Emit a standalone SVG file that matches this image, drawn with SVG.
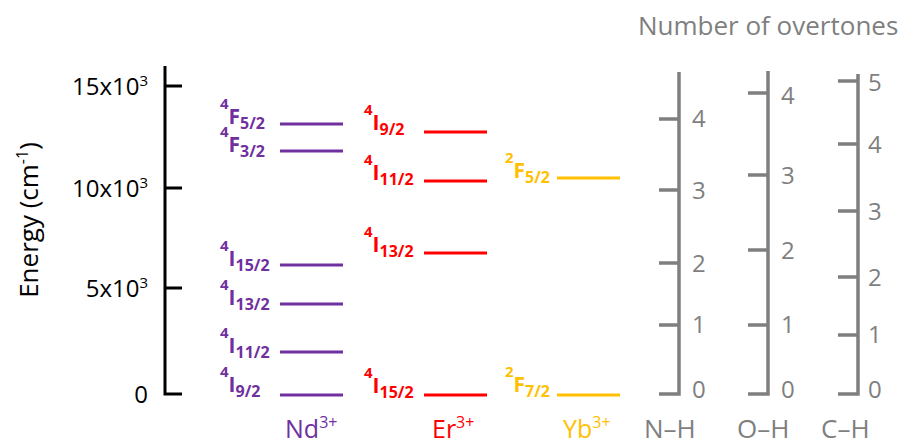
<svg xmlns="http://www.w3.org/2000/svg" width="905" height="445" viewBox="0 0 905 445">
<style>
text{font-family:"Open Sans","Noto Sans","Liberation Sans",sans-serif}
.ax{fill:none;stroke:#000;stroke-width:3}
.ov{fill:none;stroke:#7f7f7f;stroke-width:3.5}
.tk{font-size:24px;fill:#000}
.gt{font-size:24px;fill:#7f7f7f}
.gb{font-size:26px;fill:#7f7f7f}
.lv{font-weight:bold;font-size:21px}
.sup{font-size:15px}
.sub{font-size:16px}
.nd{fill:#7030a0}.ndl{stroke:#7030a0;stroke-width:3}
.er{fill:#ff0000}.erl{stroke:#ff0000;stroke-width:3}
.yb{fill:#ffc000}.ybl{stroke:#ffc000;stroke-width:3}
.ion{font-size:25px}
</style>
<rect width="905" height="445" fill="#fff"/>
<g id="energy-axis">
<path class="ax" d="M165,66 V394 H182 M165,86 H182 M165,188 H182 M165,288 H182"/>
<text class="tk" x="148" y="95" text-anchor="end">15x10<tspan font-size="15" dy="-9">3</tspan></text>
<text class="tk" x="148" y="197" text-anchor="end">10x10<tspan font-size="15" dy="-9">3</tspan></text>
<text class="tk" x="148" y="297" text-anchor="end">5x10<tspan font-size="15" dy="-9">3</tspan></text>
<text class="tk" x="148" y="403" text-anchor="end">0</text>
<text class="tk" font-size="26" transform="translate(38,220) rotate(-90)" text-anchor="middle" style="font-size:26px">Energy (cm<tspan font-size="16" dy="-10">-1</tspan><tspan dy="10">)</tspan></text>
</g>
<g id="nd">
<line class="ndl" x1="280" y1="124" x2="343" y2="124"/>
<line class="ndl" x1="280" y1="151" x2="343" y2="151"/>
<line class="ndl" x1="280" y1="265" x2="343" y2="265"/>
<line class="ndl" x1="280" y1="304" x2="343" y2="304"/>
<line class="ndl" x1="280" y1="352" x2="343" y2="352"/>
<line class="ndl" x1="280" y1="395" x2="343" y2="395"/>
<text class="lv nd" x="220" y="124"><tspan class="sup" dy="-15">4</tspan><tspan dy="15">F</tspan><tspan class="sub" dy="5">5/2</tspan></text>
<text class="lv nd" x="220" y="152"><tspan class="sup" dy="-15">4</tspan><tspan dy="15">F</tspan><tspan class="sub" dy="5">3/2</tspan></text>
<text class="lv nd" x="220" y="266"><tspan class="sup" dy="-15">4</tspan><tspan dy="15">I</tspan><tspan class="sub" dy="5">15/2</tspan></text>
<text class="lv nd" x="220" y="305"><tspan class="sup" dy="-15">4</tspan><tspan dy="15">I</tspan><tspan class="sub" dy="5">13/2</tspan></text>
<text class="lv nd" x="220" y="353"><tspan class="sup" dy="-15">4</tspan><tspan dy="15">I</tspan><tspan class="sub" dy="5">11/2</tspan></text>
<text class="lv nd" x="220" y="392"><tspan class="sup" dy="-15">4</tspan><tspan dy="15">I</tspan><tspan class="sub" dy="5">9/2</tspan></text>
<text class="ion nd" x="285" y="438">Nd<tspan font-size="16" dy="-10">3+</tspan></text>
</g>
<g id="er">
<line class="erl" x1="424" y1="132" x2="487" y2="132"/>
<line class="erl" x1="424" y1="181" x2="487" y2="181"/>
<line class="erl" x1="424" y1="253" x2="487" y2="253"/>
<line class="erl" x1="424" y1="395" x2="487" y2="395"/>
<text class="lv er" x="364" y="130"><tspan class="sup" dy="-15">4</tspan><tspan dy="15">I</tspan><tspan class="sub" dy="5">9/2</tspan></text>
<text class="lv er" x="364" y="180"><tspan class="sup" dy="-15">4</tspan><tspan dy="15">I</tspan><tspan class="sub" dy="5">11/2</tspan></text>
<text class="lv er" x="364" y="252"><tspan class="sup" dy="-15">4</tspan><tspan dy="15">I</tspan><tspan class="sub" dy="5">13/2</tspan></text>
<text class="lv er" x="364" y="393"><tspan class="sup" dy="-15">4</tspan><tspan dy="15">I</tspan><tspan class="sub" dy="5">15/2</tspan></text>
<text class="ion er" x="432" y="438">Er<tspan font-size="16" dy="-10">3+</tspan></text>
</g>
<g id="yb">
<line class="ybl" x1="557" y1="178" x2="620" y2="178"/>
<line class="ybl" x1="557" y1="395" x2="620" y2="395"/>
<text class="lv yb" x="505" y="178"><tspan class="sup" dy="-15">2</tspan><tspan dy="15">F</tspan><tspan class="sub" dy="5">5/2</tspan></text>
<text class="lv yb" x="505" y="392"><tspan class="sup" dy="-15">2</tspan><tspan dy="15">F</tspan><tspan class="sub" dy="5">7/2</tspan></text>
<text class="ion yb" x="563" y="438">Yb<tspan font-size="16" dy="-10">3+</tspan></text>
</g>
<g id="overtones">
<text class="gb" x="638" y="35">Number of overtones</text>
</g>
<g id="nh">
<path class="ov" d="M679,72 V394 H659 M659,119 H679 M659,190 H679 M659,263 H679 M659,325 H679"/>
<text class="gt" x="692" y="127">4</text>
<text class="gt" x="692" y="199">3</text>
<text class="gt" x="692" y="272">2</text>
<text class="gt" x="692" y="333">1</text>
<text class="gt" x="692" y="398">0</text>
<text class="gb" x="644" y="438">N–H</text>
</g>
<g id="oh">
<path class="ov" d="M768,71 V394 H748 M748,93 H768 M748,175 H768 M748,250 H768 M748,325 H768"/>
<text class="gt" x="781" y="104">4</text>
<text class="gt" x="781" y="184">3</text>
<text class="gt" x="781" y="259">2</text>
<text class="gt" x="781" y="333">1</text>
<text class="gt" x="781" y="398">0</text>
<text class="gb" x="737" y="438">O–H</text>
</g>
<g id="ch">
<path class="ov" d="M858,74 V394 H838 M838,81 H858 M838,144 H858 M838,211 H858 M838,277 H858 M838,335 H858"/>
<text class="gt" x="868" y="91">5</text>
<text class="gt" x="868" y="153">4</text>
<text class="gt" x="868" y="220">3</text>
<text class="gt" x="868" y="286">2</text>
<text class="gt" x="868" y="343">1</text>
<text class="gt" x="868" y="398">0</text>
<text class="gb" x="821" y="438">C–H</text>
</g>
</svg>
